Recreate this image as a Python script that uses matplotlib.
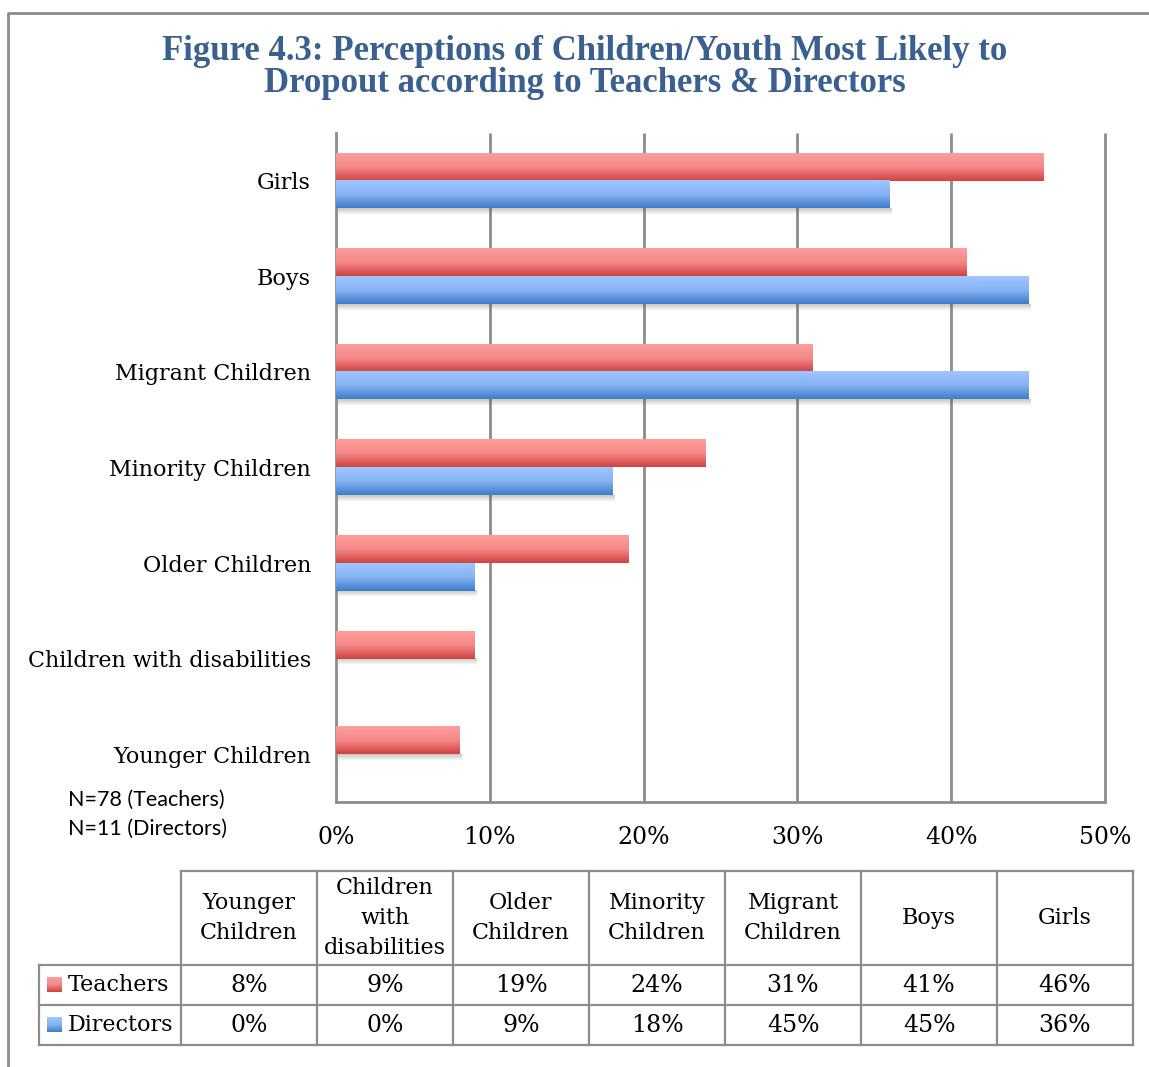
import numpy as np
import matplotlib
matplotlib.use("Agg")
import matplotlib.pyplot as plt
from matplotlib.colors import LinearSegmentedColormap, to_rgb

# ---- data ----
categories = ["Younger Children", "Children with disabilities", "Older Children",
              "Minority Children", "Migrant Children", "Boys", "Girls"]
table_headers = ["Younger\nChildren", "Children\nwith\ndisabilities", "Older\nChildren",
                 "Minority\nChildren", "Migrant\nChildren", "Boys", "Girls"]
teachers = [8, 9, 19, 24, 31, 41, 46]
directors = [0, 0, 9, 18, 45, 45, 36]
series_names = ["Teachers", "Directors"]
x_ticks = [0, 10, 20, 30, 40, 50]
title_lines = ["Figure 4.3: Perceptions of Children/Youth Most Likely to",
               "Dropout according to Teachers & Directors"]
notes = ["N=78 (Teachers)", "N=11 (Directors)"]

W, H = 1149, 1067
SERIF = "DejaVu Serif"
TITLE_FONT = "Liberation Serif"
SANS = "Lato"
GRID = "#8c8c8c"
TITLE_COLOR = "#3a5f91"
FS = 16
FS_NUM = 17

red_grad = LinearSegmentedColormap.from_list(
    "red_grad", [to_rgb("#ff9e9e"), to_rgb("#f48888"), to_rgb("#d04242")])
blue_grad = LinearSegmentedColormap.from_list(
    "blue_grad", [to_rgb("#a0c6ff"), to_rgb("#86b2f2"), to_rgb("#3e7dcc")])
grad_col = np.linspace(0, 1, 64).reshape(-1, 1)

fig = plt.figure(figsize=(W / 100, H / 100), dpi=100)

# overlay in pixel coordinates for frame, title, notes and data table
ov = fig.add_axes([0, 0, 1, 1])
ov.set_xlim(0, W)
ov.set_ylim(H, 0)
ov.axis("off")
ov.patch.set_visible(False)

ov.plot([8, 8, W + 5], [H + 5, 13, 13], color=GRID, lw=2, solid_capstyle="butt")
for i, line in enumerate(title_lines):
    ov.text(585, 51 + 33 * i, line, ha="center", va="center", fontsize=25,
            fontweight="bold", color=TITLE_COLOR, family=TITLE_FONT)
for i, n in enumerate(notes):
    ov.text(68, 800 + 29 * i, n, ha="left", va="center", fontsize=15.5, family=SANS)

# ---- bar chart ----
ax = fig.add_axes([336 / W, 1 - 802 / H, (1105 - 336) / W, (802 - 133) / H])
ax.patch.set_visible(False)
bh = 0.288
ypos = np.arange(len(categories))


def grad_bar(axis, x0, x1, y0, y1, cmap):
    axis.imshow(grad_col, cmap=cmap, extent=(x0, x1, y0, y1), aspect="auto",
                interpolation="bilinear", zorder=3)


shadow = np.zeros((32, 1, 4))
shadow[..., 0:3] = 0.35
shadow[:, 0, 3] = np.linspace(0.35, 0.0, 32)

for y, t, d in zip(ypos, teachers, directors):
    if t > 0:
        grad_bar(ax, 0, t, y, y + bh, red_grad)
    if d > 0:
        grad_bar(ax, 0, d, y - bh, y, blue_grad)
        low, xmax = y - bh, d
    else:
        low, xmax = y, t
    ax.imshow(shadow, extent=(0.1, xmax + 0.1, low - 0.07, low), aspect="auto",
              interpolation="bilinear", zorder=2)

ax.set_xlim(0, 50)
ax.set_ylim(-0.5, len(categories) - 0.5)
ax.vlines(x_ticks[1:], -0.5, len(categories) - 0.5, color=GRID, lw=2, zorder=1,
          clip_on=False)
ax.set_xticks(x_ticks)
ax.set_xticklabels([f"{v}%" for v in x_ticks], fontsize=FS_NUM, family=SERIF)
ax.set_yticks(ypos)
ax.set_yticklabels(categories, fontsize=FS, family=SERIF)
ax.tick_params(axis="x", length=0, pad=17)
ax.tick_params(axis="y", length=0, pad=18)
for s in ["top", "right"]:
    ax.spines[s].set_visible(False)
for s in ["left", "bottom"]:
    ax.spines[s].set_color(GRID)
    ax.spines[s].set_linewidth(2)

# ---- data table ----
col_w = 136
x0 = 181
xl = 39
y_head, y_r1, y_r2, y_end = 871, 965, 1005, 1045
ncol = len(categories)
x_end = x0 + col_w * ncol
lw_t = 1.6
# horizontal rules
ov.plot([x0, x_end], [y_head, y_head], color=GRID, lw=lw_t)
for yy in (y_r1, y_r2, y_end):
    ov.plot([xl, x_end], [yy, yy], color=GRID, lw=lw_t)
# vertical rules
ov.plot([xl, xl], [y_r1, y_end], color=GRID, lw=lw_t)
for j in range(ncol + 1):
    xx = x0 + col_w * j
    ov.plot([xx, xx], [y_head, y_end], color=GRID, lw=lw_t)

for j, hdr in enumerate(table_headers):
    ov.text(x0 + col_w * (j + 0.5), (y_head + y_r1) / 2, hdr, ha="center",
            va="center", fontsize=FS, family=SERIF, linespacing=1.45)

rows = [teachers, directors]
cmaps = [red_grad, blue_grad]
for r, (vals, name, cm) in enumerate(zip(rows, series_names, cmaps)):
    yc = (y_r1 + y_r2) / 2 + r * (y_r2 - y_r1)
    ov.imshow(grad_col, cmap=cm, extent=(47, 62, yc + 7.5, yc - 7.5), aspect="auto",
              interpolation="bilinear")
    ov.text(68, yc, name, ha="left", va="center", fontsize=FS, family=SERIF)
    for j, v in enumerate(vals):
        ov.text(x0 + col_w * (j + 0.5), yc, f"{v}%", ha="center", va="center",
                fontsize=FS_NUM, family=SERIF)

ov.set_xlim(0, W)
ov.set_ylim(H, 0)

fig.savefig("out.png", dpi=100)
